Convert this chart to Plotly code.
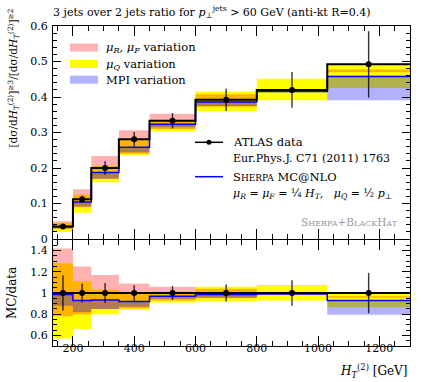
import plotly.graph_objects as go

# ---------------- data ----------------
bin_edges = [135, 200, 260, 350, 450, 600, 800, 1030, 1300]
data_vals = [0.035, 0.112, 0.200, 0.281, 0.333, 0.392, 0.420, 0.492]
data_rel_err = [0.165, 0.09, 0.095, 0.072, 0.065, 0.08, 0.12, 0.19]
mc_ratio = [0.985, 0.93, 0.935, 0.92, 0.97, 0.985, 0.99, 0.93]

pink_lo = [0.78, 0.80, 0.85, 0.855, 0.93, 0.95, 0.995, 0.955]
pink_hi = [1.42, 1.25, 1.17, 1.09, 1.06, 1.04, 1.005, 0.97]
yellow_lo = [0.57, 0.66, 0.80, 0.84, 0.91, 0.92, 0.93, 0.865]
yellow_hi = [1.28, 1.11, 1.03, 1.0, 1.0, 1.06, 1.075, 0.995]
blue_lo = [0.88, 0.82, 0.85, 0.87, 0.945, 0.955, 0.99, 0.795]
blue_hi = [0.99, 0.93, 0.93, 0.92, 0.97, 0.99, 0.995, 0.935]

x_ticks_major = 200
FONT = "DejaVu Serif"

# ---------------- helpers ----------------
n = len(data_vals)
centers = [(bin_edges[i] + bin_edges[i + 1]) / 2 for i in range(n)]


def band_polygon(lo, hi):
    xs, ys = [], []
    for i in range(n):
        xs += [bin_edges[i], bin_edges[i + 1]]
        ys += [hi[i], hi[i]]
    for i in reversed(range(n)):
        xs += [bin_edges[i + 1], bin_edges[i]]
        ys += [lo[i], lo[i]]
    xs.append(xs[0]); ys.append(ys[0])
    return xs, ys


def step(vals):
    return list(bin_edges), list(vals) + [vals[-1]]


W, H = 423, 382
L, R, T, B = 53, 13, 26, 36
PW, PH = W - L - R, H - T - B


def pxx(x):
    return (x - L) / PW


def pxy(y):
    return (H - B - y) / PH


band_specs = [
    (yellow_lo, yellow_hi, "#ffff00"),
    (pink_lo, pink_hi, "rgba(255,0,0,0.3)"),
    (blue_lo, blue_hi, "rgba(0,0,255,0.3)"),
]

fig = go.Figure()

for panel, (xa, ya) in enumerate([("x", "y"), ("x2", "y2")]):
    scale = data_vals if panel == 0 else [1.0] * n
    for lo, hi, col in band_specs:
        lo_s = [lo[i] * scale[i] for i in range(n)]
        hi_s = [hi[i] * scale[i] for i in range(n)]
        xs, ys = band_polygon(lo_s, hi_s)
        fig.add_trace(go.Scatter(x=xs, y=ys, fill="toself", fillcolor=col,
                                 mode="none", line=dict(width=0),
                                 xaxis=xa, yaxis=ya, showlegend=False, hoverinfo="skip"))
    mc_s = [mc_ratio[i] * scale[i] for i in range(n)]
    sx, sy = step(mc_s)
    fig.add_trace(go.Scatter(x=sx, y=sy, mode="lines", line=dict(color="#0000ff", width=1.5, shape="hv"),
                             xaxis=xa, yaxis=ya, showlegend=False))
    dv = [1.0] * n if panel == 1 else data_vals
    sx, sy = step(dv)
    fig.add_trace(go.Scatter(x=sx, y=sy, mode="lines", line=dict(color="black", width=2, shape="hv"),
                             xaxis=xa, yaxis=ya, showlegend=False))
    errs = [data_rel_err[i] * dv[i] for i in range(n)]
    fig.add_trace(go.Scatter(x=centers, y=dv, mode="markers",
                             marker=dict(color="black", size=6),
                             error_y=dict(type="data", array=errs, visible=True, color="rgba(0,0,0,0.8)",
                                          thickness=1.4, width=0),
                             xaxis=xa, yaxis=ya, showlegend=False))

axis_common = dict(showline=True, linecolor="black", linewidth=1, mirror="ticks",
                   ticks="inside", tickcolor="black", showgrid=False, zeroline=False,
                   tickfont=dict(family=FONT, size=11, color="black"))

fig.update_layout(
    width=W, height=H,
    margin=dict(l=L, r=R, t=T, b=B),
    plot_bgcolor="white", paper_bgcolor="white",
    font=dict(family=FONT, color="black"),
    xaxis=dict(domain=[0, 1], anchor="y", range=[135, 1300], matches="x2", showticklabels=False,
               dtick=x_ticks_major, tick0=0, ticklen=10,
               minor=dict(dtick=50, ticklen=5, ticks="inside", tickcolor="black"), **axis_common),
    xaxis2=dict(domain=[0, 1], anchor="y2", range=[135, 1300],
                dtick=x_ticks_major, tick0=0, ticklen=10, ticklabelstandoff=-8,
                minor=dict(dtick=50, ticklen=5, ticks="inside", tickcolor="black"), **axis_common),
    yaxis=dict(domain=[(346 - 239) / PH, 1], anchor="x", range=[0, 0.6], dtick=0.1, tick0=0, ticklen=8,
               ticklabelstandoff=2,
               minor=dict(dtick=0.02, ticklen=4, ticks="inside", tickcolor="black"), **axis_common),
    yaxis2=dict(domain=[0, (346 - 240) / PH], anchor="x2", range=[0.5, 1.5], dtick=0.2, tick0=0, ticklen=8,
                ticklabelstandoff=2,
                minor=dict(dtick=0.05, ticklen=4, ticks="inside", tickcolor="black"), **axis_common),
)

shapes = []
# legend boxes
for yc, col in [(47.5, "rgba(255,0,0,0.3)"), (64, "#ffff00"), (79.7, "rgba(0,0,255,0.3)")]:
    shapes.append(dict(type="rect", xref="paper", yref="paper", x0=pxx(70), x1=pxx(98),
                       y0=pxy(yc + 4), y1=pxy(yc - 4), fillcolor=col, line=dict(width=0)))
shapes.append(dict(type="line", xref="paper", yref="paper", x0=pxx(195), x1=pxx(223),
                   y0=pxy(142.3), y1=pxy(142.3), line=dict(color="black", width=1.5)))
shapes.append(dict(type="circle", xref="paper", yref="paper", x0=pxx(206.5), x1=pxx(211.5),
                   y0=pxy(144.8), y1=pxy(139.8), fillcolor="black", line=dict(width=0)))
shapes.append(dict(type="line", xref="paper", yref="paper", x0=pxx(195), x1=pxx(223),
                   y0=pxy(176.7), y1=pxy(176.7), line=dict(color="#0000ff", width=1.5)))
fig.update_layout(shapes=shapes)


def ann(text, x, y, size=11.5, xanchor="left", yanchor="middle", color="black", angle=0):
    return dict(text=text, x=pxx(x), y=pxy(y), xref="paper", yref="paper", showarrow=False,
                xanchor=xanchor, yanchor=yanchor, textangle=angle,
                font=dict(family=FONT, size=size, color=color))


sc = "<span style='font-size:9px'>"
annotations = [
    ann("3 jets over 2 jets ratio for <i>p</i><sub>⊥</sub><sup>jets</sup> > 60 GeV (anti-kt R=0.4)", 51, 12, size=11),
    ann("<i>μ<sub>R</sub></i>, <i>μ<sub>F</sub></i> variation", 104, 47.5),
    ann("<i>μ<sub>Q</sub></i> variation", 104, 64),
    ann("MPI variation", 104, 79.7),
    ann("ATLAS data", 231, 142.3),
    ann("Eur.Phys.J. C71 (2011) 1763", 231, 158.3, size=11),
    ann("S" + sc + "HERPA</span> MC@NLO", 231, 176.7),
    ann("<i>μ<sub>R</sub></i> = <i>μ<sub>F</sub></i> = ¼ <i>H<sub>T</sub></i>,   <i>μ<sub>Q</sub></i> = ½ <i>p</i><sub>⊥</sub>", 231, 194.3, size=11),
    ann("S" + "<span style='font-size:8px'>HERPA</span>+B<span style='font-size:8px'>LACK</span>H<span style='font-size:8px'>AT</span>",
        400, 222, size=10.5, xanchor="right", color="#999999"),
    ann("<i>H</i><sub><i>T</i></sub><sup>(2)</sup> [GeV]", 409, 371, size=12, xanchor="right"),
    ann("MC/data", 12, 293, size=12, xanchor="center", angle=-90),
    ann("[dσ/d<i>H</i><sub><i>T</i></sub><sup>(2)</sup>]<sup>≥3</sup>/[dσ/d<i>H</i><sub><i>T</i></sub><sup>(2)</sup>]<sup>≥2</sup>",
        13, 7, size=10.5, xanchor="center", yanchor="top", angle=-90),
]
fig.update_layout(annotations=annotations)

fig.write_html("out.html", config={"displayModeBar": False},
               post_script="document.body.style.margin='0';document.body.style.overflow='hidden';")
